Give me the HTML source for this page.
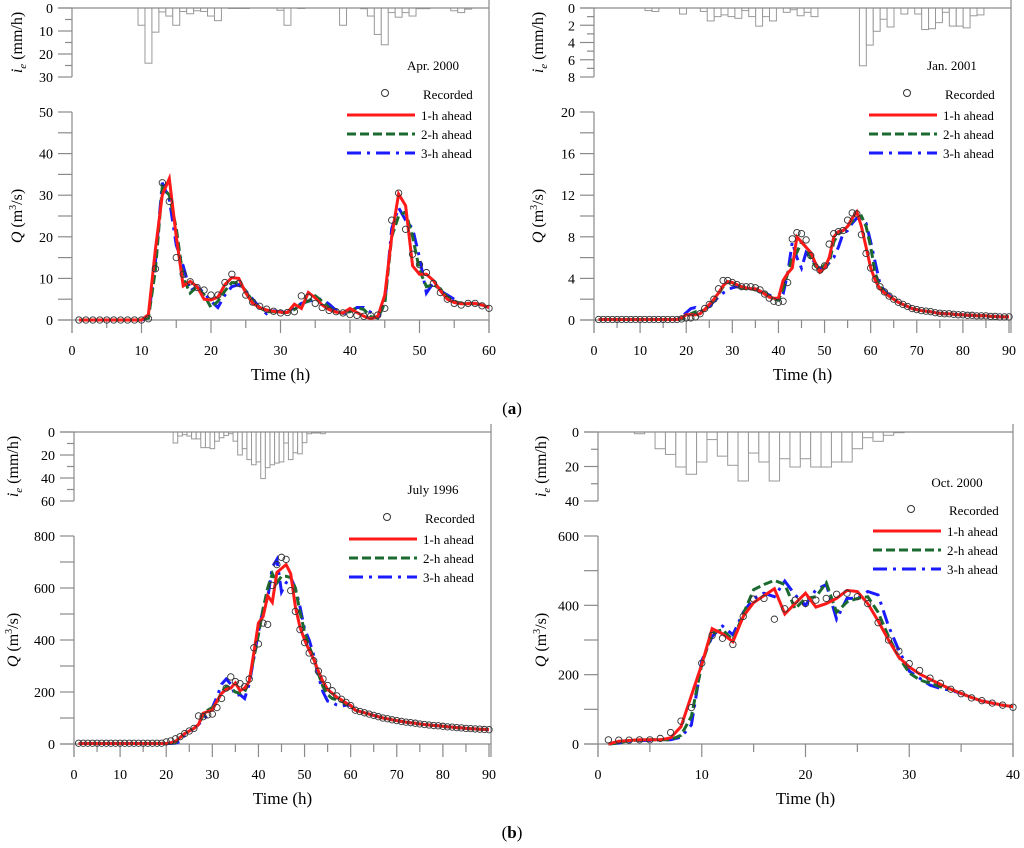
<!DOCTYPE html>
<html><head><meta charset="utf-8"><style>
html,body{margin:0;padding:0;background:#fff;}
svg{display:block;font-family:"Liberation Serif",serif;}
</style></head><body>
<svg id="fig" width="1024" height="848" viewBox="0 0 1024 848" xmlns="http://www.w3.org/2000/svg">
<text x="512" y="414" text-anchor="middle" font-size="17">(<tspan font-weight="bold">a</tspan>)</text>
<text x="512" y="838" text-anchor="middle" font-size="17">(<tspan font-weight="bold">b</tspan>)</text>
</svg>
<script>
// ---------- Panel A: Apr. 2000 ----------
const recA=[0,0,0,0,0,0,0,0,0,0, 0.3,12.3,33,28.5,15,11,9.2,7.8,7.2,6, 6,9,11,8.8,6,4.3,3.3,2.6,2.1,1.7, 1.8,2,5.8,5.5,4,3,2.3,2,1.7,1.3, 1.1,0.9,1,1.2,2.8,24,30.5,21.8,15.8,13.3, 11.4,8.8,6.6,5,4,3.6,4,4,3.4,2.8];
const h1A=[0,0,0,0,0,0,0,0,0,0, 1.3,17,30,34,20,8.2,9.3,8,5,4.8, 5.5,8.5,10.2,10,6.5,4,3,2.4,2.1,1.9, 1.8,3.8,2.8,6.6,5.3,3.6,2.5,1.9,1.7,2.8, 1.8,0.9,0.3,0.9,6,20,30.3,27.5,13,11, 11,9.5,7,5,4.2,3.9,3.9,4,3.6,3];
const h2A=[0,0,0,0,0,0,0,0,0,0, 0.5,12,32,30,22,10,6.5,8,6,3, 4.5,7,9,9,7,4.5,3,2,2,1.8, 1.8,2.5,4,4.5,5.8,4.5,3,2,1.6,2, 3,2.5,0.8,0.5,4,20,25,26,20,12, 8,8.5,7.5,5.5,4.5,4,4,3.9,3.6,3];
const h3A=[0,0,0,0,0,0,0,0,0,0, 0.5,14,33,29,18,13,7,8,6.5,4.5, 3,6,8,8.5,7,5,3,1.5,2.2,2, 1.8,3,4,4.5,5,5,3.8,2.3,1.6,1.8, 3,3,1.8,0.5,4,22,27,24,22,15, 6.5,9,7,6,5,4,4,4,3.6,3];
const rainA=[7.5,24,10.5,1.7,3.5,7.5,1.5,2.5,1.2,1.5, 3.5,5.5,0,0.2,0.2,0.2,0,0,0,0, 1,7.5,0,0.2,0,0,0,0,0,7.5, 0,0,0.3,3.5,11.5,16,2,4,2,3.5, 0.3,0.3,0,0,0,1.2,2,0.5];
const xTicksA=[0,10,20,30,40,50,60];
const qTicksA=[0,10,20,30,40,50];
const rTicksA=[0,10,20,30];

// ---------- Panel B: Jan. 2001 ----------
const tailB=[0.9,0.85,0.8,0.7,0.65,0.6,0.6,0.55,0.5,0.5, 0.45,0.45,0.4,0.4,0.4,0.35,0.35,0.3,0.3,0.3];
const zB=[0.05,0.05,0.05,0.05,0.05,0.05,0.05,0.05,0.05,0.05,0.05,0.05,0.05,0.05,0.05,0.05,0.05,0.05];
const recB=zB.concat([0.1,0.2, 0.2,0.3,0.6,1.1,1.5,2,3,3.8,3.8,3.6, 3.4,3.2,3.2,3.2,3.1,2.9,2.5,2.1,1.8,1.7, 1.8,3.6,7.8,8.4,8.3,7.7,6.2,5.1,4.8,5.2, 7.3,8.3,8.5,8.6,9.6,10.3,10.2,8.2,6.4,5, 3.9,3.2,2.7,2.3,2,1.7,1.5,1.3,1.1,1.0],tailB);
const h1B=zB.concat([0.2,0.5, 0.5,0.5,0.6,1.0,1.5,2,2.6,3.3,3.7,3.6, 3.4,3.2,3.1,3.0,3.0,2.8,2.5,2.2,2.1,2.1, 3.8,4.5,5,8,7.5,7,6.5,5.5,4.6,5, 6,8,8.5,8.6,9,9.8,10.4,9,7,5, 3.8,3,2.6,2.3,2,1.7,1.5,1.3,1.1,1.0],tailB);
const h2B=zB.concat([0.1,0.3, 0.6,0.8,0.8,1.0,1.4,1.9,2.5,3.2,3.6,3.6, 3.3,3.1,3.0,3.0,2.9,2.8,2.6,2.3,2.0,1.9, 3,4.5,6,6.5,7.5,7,6,5.2,4.8,5.3, 5.5,7.5,8.3,8.6,9,9.5,9.8,10,9,7, 4.5,3.2,2.7,2.3,2,1.7,1.5,1.3,1.1,1.0],tailB);
const h3B=zB.concat([0.3,0.7, 1.1,1.2,0.8,1.0,1.3,1.8,2.2,2.6,2.9,3.1, 3.2,3.1,3.0,3.0,2.9,2.7,2.6,2.4,2.2,2.0, 2.5,4.5,7.5,6,5,6.5,6,5.5,5,5, 5.5,6,7,8.3,8.6,9.3,9.8,9.8,9.3,7.5, 5.5,3.5,2.8,2.4,2,1.7,1.5,1.3,1.1,1.0],tailB);
const rainB=[0.3,0.4,0,0,0,0.7,0,0,0.4,1.5, 1.0,0.8,1.0,1.2,0.3,1.0,2.1,1.0,1.5,0, 0.5,0.2,0.9,0.5,1.0,0,0,0,0,0, 0,6.7,4.3,2.7,1.3,2.2,0,0.7,0,0.7, 2.5,2.4,1.7,0.5,2.1,2.1,2.3,0.9,0.8];
const xTicksB=[0,10,20,30,40,50,60,70,80,90];
const qTicksB=[0,4,8,12,16,20];
const rTicksB=[0,2,4,6,8];

// ---------- Panel C: July 1996 ----------
const tailC=[130,125,120,115,110,105,100,97,93,90, 87,84,82,80,77,75,73,71,70,68, 66,65,63,62,60,59,58,57,56,55];
const recC=[3,3,3,3,3,3,3,3,3,3,3,3,3,3,3,3,3,3,3,8, 12,20,28,40,50,60,108,105,112,115, 140,175,215,258,240,232,220,250,370,385, 465,460,610,690,718,710,590,510,440,390, 350,320,280,250,225,205,185,172,160,148].concat(tailC);
const h1C=[2,2,2,2,2,2,2,2,2,2,2,2,2,2,2,2,2,2,2,2, 5,10,25,40,50,60,75,118,125,130, 165,195,210,215,235,205,215,240,350,465, 490,570,545,660,675,690,655,530,450,400, 360,325,280,240,210,195,180,170,158,148].concat(tailC);
const h2C=[2,2,2,2,2,2,2,2,2,2,2,2,2,2,2,2,2,2,2,2, 3,5,25,40,50,60,75,110,130,140, 160,200,220,215,200,195,200,245,330,420, 520,600,655,620,645,645,640,600,510,430, 375,330,270,220,190,175,170,165,155,148].concat(tailC);
const h3C=[2,2,2,2,2,2,2,2,2,2,2,2,2,2,2,2,2,2,2,2, 2,3,10,35,50,60,75,95,110,140, 180,230,250,230,185,190,175,230,330,430, 520,560,680,710,585,620,640,600,530,440, 400,340,260,200,165,160,150,145,150,148].concat(tailC);
const rainC=[9.6,3.5,2.3,3.5,6,6,13.6,13.6,14.5,8, 5,3,1.5,8,20,14.5,24,28.5,26,40.5, 31,28.5,27,26,9.6,24,18,19,9.3,1.5, 0.9,0.9,1.5];
const xTicksC=[0,10,20,30,40,50,60,70,80,90];
const qTicksC=[0,200,400,600,800];
const rTicksC=[0,20,40,60];

// ---------- Panel D: Oct. 2000 ----------
const recD=[12,11,11,12,12,16,33,66,105,233, 313,305,287,368,418,420,360,390,415,405, 415,420,432,435,425,405,350,300,268,232, 212,190,175,158,145,133,125,118,112,106];
const h1D=[0,8,10,12,12,12,18,50,140,230, 333,318,295,368,408,428,448,375,405,435, 395,405,420,443,440,405,355,300,250,222, 202,187,172,158,146,134,124,118,112,108];
const h2D=[0,3,10,11,12,12,12,25,80,230, 320,330,300,375,445,460,472,460,390,420, 425,465,380,410,420,425,380,310,250,205, 185,175,165,158,146,134,124,118,112,108];
const h3D=[0,3,8,10,10,12,12,20,55,240, 310,340,315,380,420,435,425,470,430,400, 445,460,360,420,420,440,430,340,270,210, 190,170,160,155,146,134,124,118,112,108];
const rainD=[1,0,9.7,13,20.3,24.5,17.4,4.4,14,19.3, 28.4,12.2,17.4,28.4,15.5,20.3,15.5,20.3,20.3,17.4, 17.4,9.7,3.3,5.4,1.9,0.4];
const xTicksD=[0,10,20,30,40];
const qTicksD=[0,200,400,600];
const rTicksD=[0,20,40];

const NS="http://www.w3.org/2000/svg";
const svg=document.getElementById('fig');
function mk(tag,attrs,parent){const e=document.createElementNS(NS,tag);for(const k in attrs)e.setAttribute(k,attrs[k]);(parent||svg).appendChild(e);return e;}
const AX='#8a8a8a';

function panel(c){
  const g=mk('g',{});
  
  
  const xs=t=>c.x0+(c.x1-c.x0)*t/c.xmax;
  const qs=v=>c.qBot-(c.qBot-c.qTop)*v/c.qmax;
  const rs=v=>c.rTop+(c.rBot-c.rTop)*v/c.rmax;
  c.rain.forEach((v,i)=>{
    if(v<=0)return;
    const t0=c.rainStart+i*c.rainW;
    const b=mk('rect',{x:xs(t0),y:c.rTop,width:xs(t0+c.rainW)-xs(t0),height:rs(v)-c.rTop,fill:'#fff',stroke:'#999','stroke-width':1},g);
    
    
  });
  const ax=mk('g',{stroke:AX,'stroke-width':1.2,fill:'none'},g);
  
  
  mk('line',{x1:c.x0-14,y1:c.rTop,x2:c.right,y2:c.rTop},ax);
  mk('line',{x1:c.x0,y1:c.rTop,x2:c.x0,y2:c.rBot},ax);
  mk('line',{x1:c.right,y1:c.rTop-8,x2:c.right,y2:c.qBot+13},ax);
  mk('line',{x1:c.x0,y1:c.qTop,x2:c.x0,y2:c.qBot+13},ax);
  mk('line',{x1:c.x0-14,y1:c.qBot,x2:c.right,y2:c.qBot},ax);
  const rStep=c.rTicks[1]-c.rTicks[0];
  c.rTicks.forEach((v,i)=>{
    mk('line',{x1:c.x0-14,y1:rs(v),x2:c.x0,y2:rs(v)},ax);
    if(i<c.rTicks.length-1){const m=v+rStep/2;mk('line',{x1:c.x0-7,y1:rs(m),x2:c.x0,y2:rs(m)},ax);}
    const t=mk('text',{x:c.x0-19,y:rs(v)+5,'text-anchor':'end','font-size':14,fill:'#000'},g);
    t.textContent=v;
    
    
  });
  const qStep=c.qTicks[1]-c.qTicks[0];
  c.qTicks.forEach((v,i)=>{
    mk('line',{x1:c.x0-14,y1:qs(v),x2:c.x0,y2:qs(v)},ax);
    if(i<c.qTicks.length-1){const m=v+qStep/2;mk('line',{x1:c.x0-14,y1:qs(m),x2:c.x0,y2:qs(m)},ax);}
    const t=mk('text',{x:c.x0-19,y:qs(v)+5,'text-anchor':'end','font-size':14,fill:'#000'},g);
    t.textContent=v;
    
    
  });
  const xStep=c.xTicks[1]-c.xTicks[0];
  c.xTicks.forEach((v,i)=>{
    mk('line',{x1:xs(v),y1:c.qBot,x2:xs(v),y2:c.qBot+13},ax);
    if(i<c.xTicks.length-1){const m=v+xStep/2;mk('line',{x1:xs(m),y1:c.qBot,x2:xs(m),y2:c.qBot+8},ax);}
    const t=mk('text',{x:xs(v),y:c.qBot+35,'text-anchor':'middle','font-size':14,fill:'#000'},g);
    t.textContent=v;
    
    
  });
  const xt=mk('text',{x:(c.x0+c.right)/2,y:c.qBot+60,'text-anchor':'middle','font-size':17,fill:'#000'},g);
  xt.textContent='Time (h)';
  
  
  const ry=(c.rTop+c.rBot)/2, qy=(c.qTop+c.qBot)/2;
  const rt=mk('text',{x:c.labX,y:ry,'text-anchor':'middle','font-size':16,fill:'#000',transform:`rotate(-90 ${c.labX} ${ry})`},g);
  rt.innerHTML='<tspan font-style="italic">i</tspan><tspan font-style="italic" font-size="11" dy="4">e</tspan><tspan dy="-4"> (mm/h)</tspan>';
  
  
  const qt=mk('text',{x:c.labX,y:qy,'text-anchor':'middle','font-size':16,fill:'#000',transform:`rotate(-90 ${c.labX} ${qy})`},g);
  qt.innerHTML='<tspan font-style="italic">Q</tspan> (m<tspan font-size="10" dy="-6">3</tspan><tspan dy="6">/s)</tspan>';
  
  
  const path=arr=>arr.map((v,i)=>(i?'L':'M')+xs(i+1).toFixed(1)+','+qs(v).toFixed(1)).join('');
  const s3=mk('path',{d:path(c.h3),fill:'none',stroke:'#1a1aff','stroke-width':3,'stroke-dasharray':'14 6 3 6'},g);
  
  
  const s2=mk('path',{d:path(c.h2),fill:'none',stroke:'#1b6b30','stroke-width':3,'stroke-dasharray':'9 4'},g);
  
  
  const s1=mk('path',{d:path(c.h1),fill:'none',stroke:'#ff1a1a','stroke-width':3},g);
  
  
  c.rec.forEach((v,i)=>{
    const p=mk('circle',{cx:xs(i+1),cy:qs(v),r:3.2,fill:'none',stroke:'#333','stroke-width':0.9},g);
    
    
  });
  const lg=mk('g',{},g);
  
  
  const ti=mk('text',{x:c.titleX,y:c.titleY+4,'text-anchor':'middle','font-size':13,fill:'#000'},lg);
  ti.textContent=c.title;
  
  
  const L=c.legX,Y=c.legY;
  mk('circle',{cx:L+38,cy:Y,r:3.5,fill:'none',stroke:'#333','stroke-width':1},lg);
  const e0=mk('text',{x:L+76,y:Y+6,'font-size':13,fill:'#000'},lg);e0.textContent='Recorded';
  
  
  const items=[['1-h ahead','#ff1a1a','none',22],['2-h ahead','#1b6b30','9 4',41],['3-h ahead','#1a1aff','14 6 3 6',60]];
  items.forEach(it=>{
    mk('line',{x1:L,y1:Y+it[3],x2:L+68,y2:Y+it[3],stroke:it[1],'stroke-width':3,'stroke-dasharray':it[2]},lg);
    const t=mk('text',{x:L+74,y:Y+it[3]+5,'font-size':13,fill:'#000'},lg);t.textContent=it[0];
    
    
  });
}

panel({name:'panel-apr-2000',x0:72,x1:489,right:489,xmax:60,qTop:112,qBot:320,qmax:50,rTop:8,rBot:77,rmax:30,
  rec:recA,h1:h1A,h2:h2A,h3:h3A,rain:rainA,rainStart:9.5,rainW:1,xTicks:xTicksA,qTicks:qTicksA,rTicks:rTicksA,
  labX:22,title:'Apr. 2000',titleX:433,titleY:66,legX:347,legY:93});
panel({name:'panel-jan-2001',x0:594,x1:1009,right:1011,xmax:90,qTop:112,qBot:320,qmax:20,rTop:8,rBot:77,rmax:8,
  rec:recB,h1:h1B,h2:h2B,h3:h3B,rain:rainB,rainStart:11.06,rainW:1.5,xTicks:xTicksB,qTicks:qTicksB,rTicks:rTicksB,
  labX:543,title:'Jan. 2001',titleX:952,titleY:66,legX:869,legY:93});
panel({name:'panel-july-1996',x0:74,x1:489,right:491,xmax:90,qTop:536,qBot:744,qmax:800,rTop:432,rBot:501,rmax:60,
  rec:recC,h1:h1C,h2:h2C,h3:h3C,rain:rainC,rainStart:21.5,rainW:1,xTicks:xTicksC,qTicks:qTicksC,rTicks:rTicksC,
  labX:18,title:'July 1996',titleX:433,titleY:490,legX:349,legY:517});
panel({name:'panel-oct-2000',x0:598,x1:1013,right:1013,xmax:40,qTop:536,qBot:744,qmax:600,rTop:432,rBot:501,rmax:40,
  rec:recD,h1:h1D,h2:h2D,h3:h3D,rain:rainD,rainStart:3.5,rainW:1,xTicks:xTicksD,qTicks:qTicksD,rTicks:rTicksD,
  labX:546,title:'Oct. 2000',titleX:957,titleY:483,legX:873,legY:509});
</script>
</body></html>
